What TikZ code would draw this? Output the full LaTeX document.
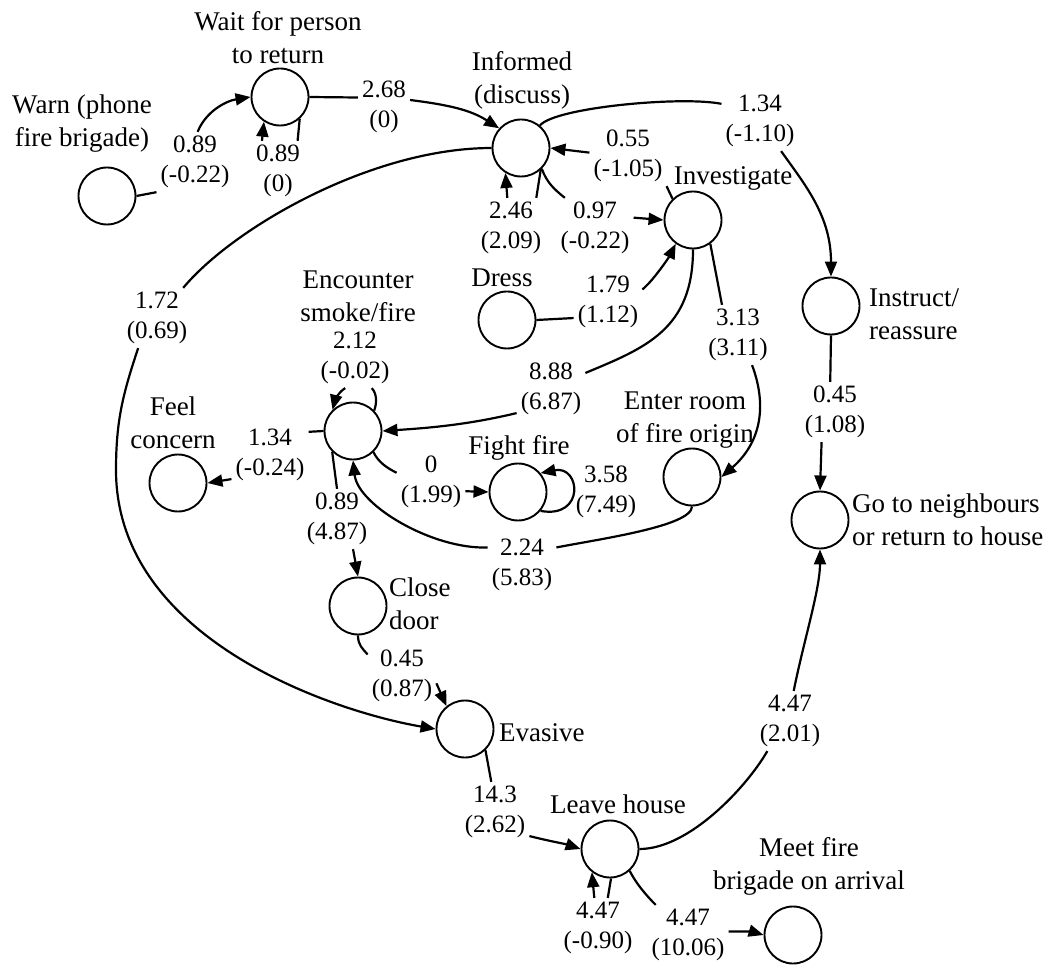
\documentclass[tikz,border=0pt]{standalone}
\usepackage{fontspec}
\setmainfont{Liberation Serif}
\usetikzlibrary{arrows.meta}
\tikzset{
 st/.style={circle, draw, line width=1.9pt, minimum size=57pt, inner sep=0pt},
 nl/.style={font=\fontsize{27}{33}\selectfont, align=center, inner sep=0pt},
 el/.style={font=\fontsize{25}{30}\selectfont, align=center, inner sep=4pt},
 ed/.style={line width=2.2pt},
 ar/.style={line width=2.2pt, -{Triangle[length=15pt,width=12pt]}},
}
\begin{document}
\begin{tikzpicture}[x=1pt,y=-1pt]
\path[fill=white, use as bounding box] (0,0) rectangle (1050,965);
% states
\node[st] (wait) at (280,97) {};
\node[st] (warn) at (107,196) {};
\node[st] (inf) at (521,148) {};
\node[st] (inv) at (693,220) {};
\node[st] (dress) at (507,320) {};
\node[st] (instr) at (831,306) {};
\node[st] (enc) at (353,431) {};
\node[st] (feel) at (178,483) {};
\node[st] (fight) at (518,492) {};
\node[st] (enter) at (692,477) {};
\node[st] (go) at (820,520) {};
\node[st] (close) at (358,606) {};
\node[st] (evas) at (465,729) {};
\node[st] (leave) at (610,849) {};
\node[st] (meet) at (793,935) {};
% state names
\node[nl] (twait) at (278,38) {Wait for person\\to return};
\node[nl] (twarn) at (82,124) {Warn (phone\\fire brigade)};
\node[nl] (tinf) at (522,80) {Informed\\(discuss)};
\node[nl] (tinv) at (733,178) {Investigate};
\node[nl] (tdress) at (502,278) {Dress};
\node[nl, anchor=west, align=left] (tinstr) at (869,314) {Instruct/\\reassure};
\node[nl] (tenc) at (358,296) {Encounter\\smoke/fire};
\node[nl] (tfeel) at (173,423) {Feel\\concern};
\node[nl] (tfight) at (519,448) {Fight fire};
\node[nl] (tenter) at (685,420) {Enter room\\of fire origin};
\node[nl, anchor=west, align=left] (tgo) at (852,520) {Go to neighbours\\or return to house};
\node[nl, anchor=west, align=left] (tclose) at (389,604) {Close\\door};
\node[nl, anchor=west] (tevas) at (499,733) {Evasive};
\node[nl] (tleave) at (618,804) {Leave house};
\node[nl] (tmeet) at (809,866) {Meet fire\\brigade on arrival};
% edge labels
\node[el] (l1) at (195,162) {0.89\\(-0.22)};
\node[el] (l2) at (278,171) {0.89\\(0)};
\node[el] (l3) at (384,107) {2.68\\(0)};
\node[el] (l4) at (511,228) {2.46\\(2.09)};
\node[el] (l5) at (595,228) {0.97\\(-0.22)};
\node[el] (l6) at (628,156) {0.55\\(-1.05)};
\node[el] (l7) at (760,121) {1.34\\(-1.10)};
\node[el] (l8) at (157,318) {1.72\\(0.69)};
\node[el] (l9) at (608,302) {1.79\\(1.12)};
\node[el] (l10) at (551,389) {8.88\\(6.87)};
\node[el] (l11) at (738,335) {3.13\\(3.11)};
\node[el] (l12) at (835,412) {0.45\\(1.08)};
\node[el] (l13) at (355,358) {2.12\\(-0.02)};
\node[el] (l14) at (270,455) {1.34\\(-0.24)};
\node[el] (l15) at (431,482) {0\\(1.99)};
\node[el] (l16) at (606,492) {3.58\\(7.49)};
\node[el] (l17) at (522,565) {2.24\\(5.83)};
\node[el] (l18) at (337,519) {0.89\\(4.87)};
\node[el] (l19) at (402,676) {0.45\\(0.87)};
\node[el] (l20) at (495,812) {14.3\\(2.62)};
\node[el] (l21) at (790,721) {4.47\\(2.01)};
\node[el] (l22) at (598,928) {4.47\\(-0.90)};
\node[el] (l23) at (688,935) {4.47\\(10.06)};
% edges
% Warn -> Wait
\draw[ed] (warn.east) -- (l1.south west);
\draw[ar] (l1.85) .. controls +(8,-20) and +(-25,4) .. (wait.west);
% Wait loop
\draw[ed] (l2.57) -- (wait.-48);
\draw[ar] (l2.118) -- (wait.237);
% Wait -> Informed
\draw[ed] (wait.east) -- (l3.160);
\draw[ar] (l3.15) .. controls +(40,5) and +(-28,-18) .. (inf.138);
% Informed loop
\draw[ed] (l4.50) -- (inf.-48);
\draw[ar] (l4.97) -- (inf.238);
% Informed -> Investigate
\draw[ed] (inf.-45) .. controls +(5,14) and +(-10,-8) .. (l5.135);
\draw[ar] (l5.15) -- (inv.west);
% Investigate -> Informed
\draw[ed] (inv.134) -- (l6.south east);
\draw[ar] (l6.175) -- (inf.east);
% Informed -> Instruct
\draw[ed] (inf.50) .. controls +(15,-18) and +(-40,-8) .. (l7.156);
\draw[ar] (l7.-55) .. controls +(25,35) and +(0,-60) .. (instr.north);
% Informed -> Evasive
\draw[ed] (inf.west) .. controls +(-120,0) and +(50,-60) .. (l8.49);
\draw[ar] (l8.238) .. controls +(-15,45) and +(0,-50) .. (116,470)
  .. controls +(0,170) and +(-100,-17) .. (evas.west);
% Dress -> Investigate
\draw[ed] (dress.east) -- (l9.205);
\draw[ar] (l9.20) .. controls +(12,-10) and +(-6,12) .. (inv.234);
% Investigate -> Encounter
\draw[ed] (inv.south) .. controls +(0,80) and +(60,-25) .. (l10.25);
\draw[ar] (l10.215) .. controls +(-50,12) and +(45,-3) .. (enc.east);
% Investigate -> Enter room
\draw[ed] (inv.-54) -- (l11.118);
\draw[ar] (l11.-65) .. controls +(15,40) and +(40,-35) .. (enter.east);
% Instruct -> Go
\draw[ed] (instr.south) -- (l12.99);
\draw[ar] (l12.-114) -- (go.north);
% Encounter loop
\draw[ar] (l13.252) .. controls +(-7,4) and +(2,-8) .. (enc.134);
\draw[ed] (enc.44) .. controls +(3,-8) and +(5,5) .. (l13.-61);
% Encounter -> Feel
\draw[ed] (enc.west) -- (l14.31);
\draw[ar] (l14.212) -- (feel.east);
% Encounter -> Fight
\draw[ed] (enc.-46) .. controls +(5,10) and +(-10,-5) .. (l15.165);
\draw[ar] (l15.-15) -- (fight.west);
% Fight loop
\draw[ar] (fight.-40) .. controls +(45,8) and +(40,-8) .. (fight.40);
% Enter -> Encounter
\draw[ed] (enter.south) .. controls +(0,20) and +(40,-8) .. (l17.27);
\draw[ar] (l17.153) .. controls +(-55,2) and +(5,45) .. (enc.south);
% Encounter -> Close
\draw[ed] (enc.225) -- (l18.north);
\draw[ar] (l18.-62) -- (close.north);
% Close -> Evasive
\draw[ed] (close.south) .. controls +(0,10) and +(-5,-6) .. (l19.148);
\draw[ar] (l19.-12) -- (evas.129);
% Evasive -> Leave
\draw[ed] (evas.-46) -- (l20.97);
\draw[ar] (l20.-35) .. controls +(20,5) and +(-15,-5) .. (leave.west);
% Leave -> Go
\draw[ed] (leave.east) .. controls +(50,0) and +(-20,35) .. (l21.233);
\draw[ar] (l21.83) .. controls +(10,-50) and +(0,40) .. (go.south);
% Leave loop
\draw[ar] (l22.97) -- (leave.232);
\draw[ed] (l22.72) -- (leave.-88);
% Leave -> Meet
\draw[ed] (leave.-48) .. controls +(6,12) and +(-10,-10) .. (l23.137);
\draw[ar] (l23.5) .. controls +(15,0) and +(-10,-3) .. (meet.west);
\end{tikzpicture}
\end{document}
